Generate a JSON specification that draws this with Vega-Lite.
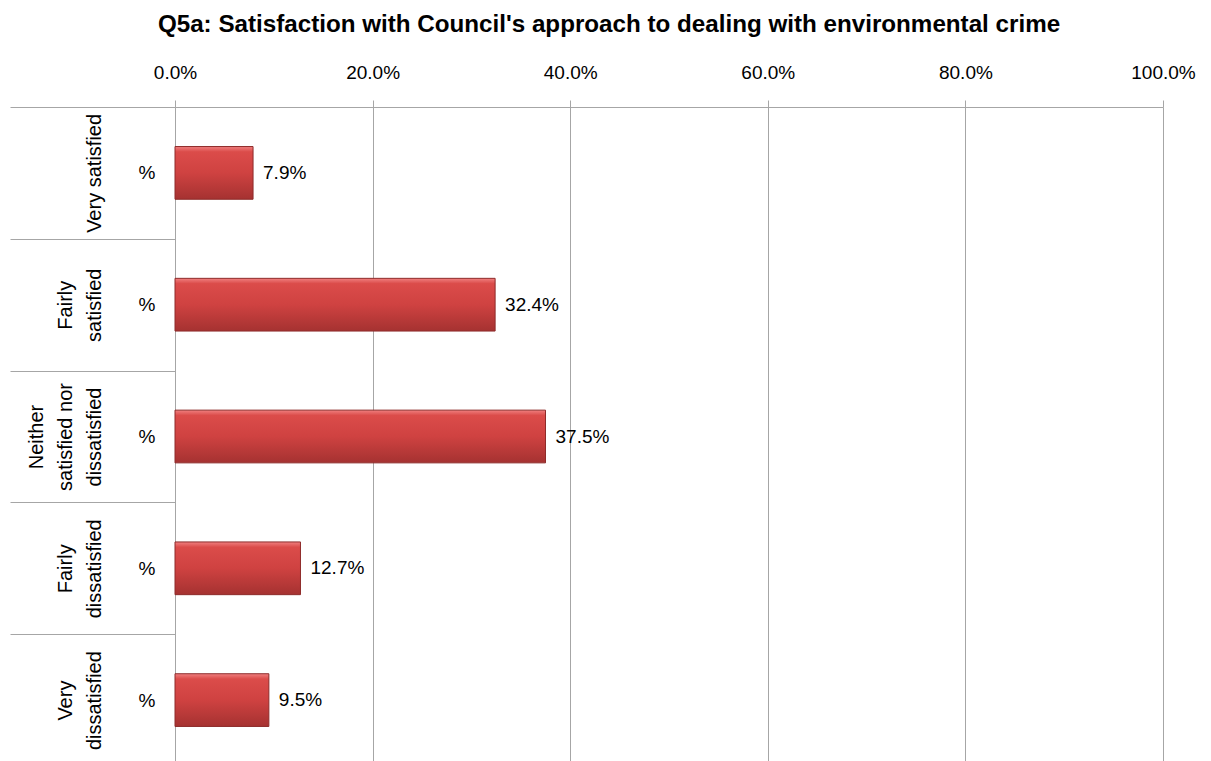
{
  "$schema": "https://vega.github.io/schema/vega-lite/v6.json",
  "autosize": "none",
  "width": 988,
  "height": 654,
  "padding": {"left": 175, "top": 107, "right": 48, "bottom": 0},
  "background": "white",
  "config": {
    "font": "Liberation Sans",
    "view": {"stroke": null},
    "axis": {"labelColor": "#000000", "titleColor": "#000000"}
  },
  "title": {
    "text": "Q5a: Satisfaction with Council's approach to dealing with environmental crime",
    "font": "Liberation Sans",
    "fontSize": 24.2,
    "fontWeight": "bold",
    "color": "#000000",
    "anchor": "middle",
    "frame": "group",
    "dx": -60,
    "offset": 26
  },
  "data": {
    "values": [
      {"category": "Very satisfied", "pct": 0.079},
      {"category": "Fairly satisfied", "pct": 0.324},
      {"category": "Neither satisfied nor dissatisfied", "pct": 0.375},
      {"category": "Fairly dissatisfied", "pct": 0.127},
      {"category": "Very dissatisfied", "pct": 0.095}
    ]
  },
  "encoding": {
    "x": {
      "field": "pct",
      "type": "quantitative",
      "scale": {"domain": [0, 1], "nice": false, "zero": true},
      "axis": {
        "orient": "top",
        "title": null,
        "values": [0, 0.2, 0.4, 0.6, 0.8, 1],
        "format": ".1%",
        "labelFontSize": 19,
        "labelBaseline": "alphabetic",
        "labelPadding": 22,
        "labelFlush": false,
        "tickSize": 7,
        "tickColor": "#a6a6a6",
        "domainColor": "#a6a6a6",
        "grid": true,
        "gridColor": "#a6a6a6",
        "gridWidth": 1,
        "gridOpacity": 1
      }
    }
  },
  "layer": [
    {
      "mark": {
        "type": "bar",
        "height": {"band": 0.4},
        "color": {
          "gradient": "linear",
          "x1": 0, "y1": 0, "x2": 0, "y2": 1,
          "stops": [
            {"offset": 0, "color": "#f08080"},
            {"offset": 0.1, "color": "#db4c4a"},
            {"offset": 0.5, "color": "#cf4241"},
            {"offset": 1, "color": "#a53231"}
          ]
        },
        "stroke": "#8e2b2a",
        "strokeWidth": 1
      },
      "encoding": {
        "y": {
          "field": "category",
          "type": "nominal",
          "sort": null,
          "scale": {"paddingInner": 0, "paddingOuter": 0, "range": [0, 659]},
          "axis": {
            "orient": "left",
            "title": null,
            "labelExpr": "isValid(datum.value) ? '%' : ''",
            "labelFontSize": 19,
            "labelAlign": "right",
            "labelBaseline": "middle",
            "labelPadding": -145,
            "ticks": true,
            "tickBand": "extent",
            "tickSize": 165,
            "tickColor": "#a6a6a6",
            "domain": true,
            "domainColor": "#a6a6a6",
            "grid": false
          }
        }
      }
    },
    {
      "mark": {"type": "text", "align": "left", "baseline": "middle", "dx": 10, "fontSize": 19, "color": "#000000"},
      "encoding": {
        "y": {
          "field": "category",
          "type": "nominal",
          "sort": null,
          "scale": {"paddingInner": 0, "paddingOuter": 0, "range": [0, 659]},
          "axis": {
            "orient": "left",
            "title": null,
            "labelExpr": "datum.value == 'Very satisfied' ? ['\u2800', '\u2800', 'Very satisfied'] : datum.value == 'Fairly satisfied' ? ['\u00a0', 'Fairly', 'satisfied'] : datum.value == 'Neither satisfied nor dissatisfied' ? ['Neither', 'satisfied nor', 'dissatisfied'] : datum.value == 'Fairly dissatisfied' ? ['\u00a0', 'Fairly', 'dissatisfied'] : ['\u00a0', 'Very', 'dissatisfied']",
            "labelFontSize": 20,
            "labelAngle": 270,
            "labelAlign": "center",
            "labelBaseline": "bottom",
            "labelLineHeight": 29,
            "labelPadding": 129,
            "ticks": false,
            "domain": false,
            "grid": false
          }
        },
        "text": {"field": "pct", "type": "quantitative", "format": ".1%"}
      }
    }
  ],
  "resolve": {"scale": {"y": "independent"}, "axis": {"y": "independent"}}
}
